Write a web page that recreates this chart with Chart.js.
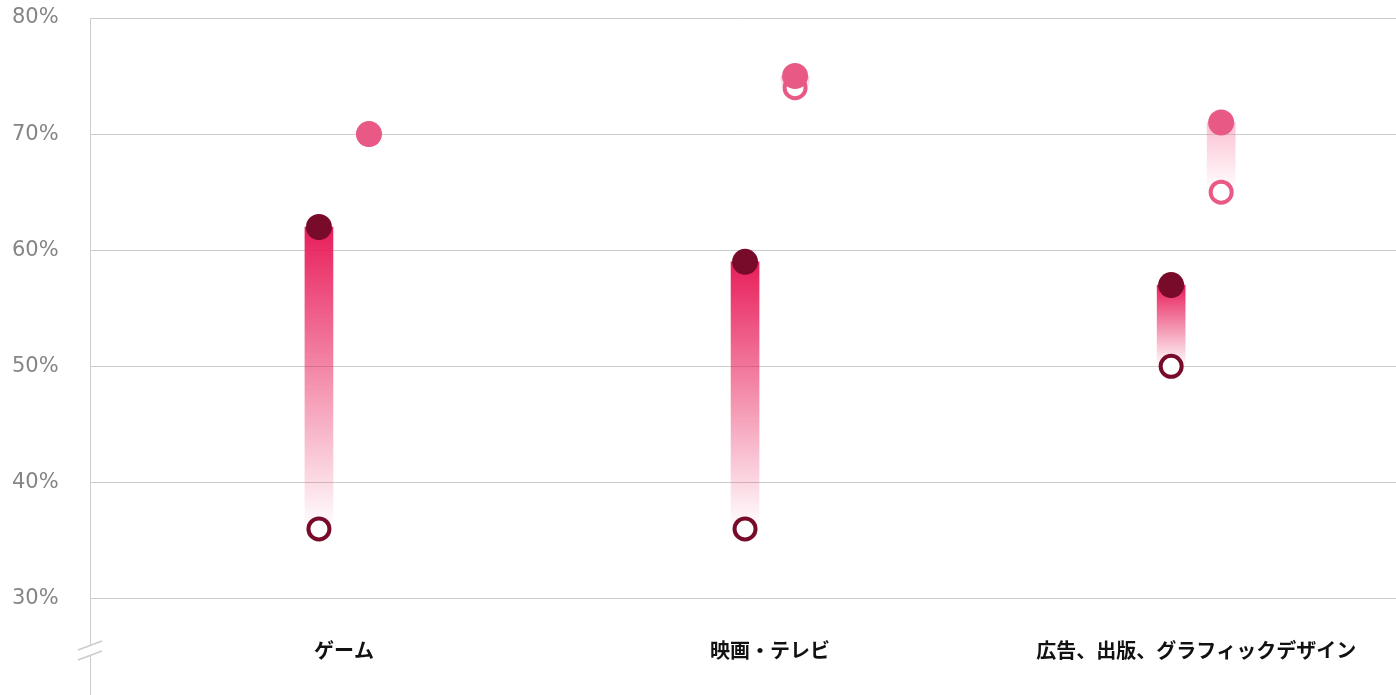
<!DOCTYPE html>
<html>
<head>
<meta charset="utf-8">
<script src="https://cdn.jsdelivr.net/npm/chart.js@4.4.0/dist/chart.umd.min.js"></script>
<style>
  html, body { margin: 0; padding: 0; background: #fff; overflow: hidden; }
</style>
</head>
<body>
<canvas id="chart" width="1396" height="695"></canvas>
<script>
const categories = ['ゲーム', '映画・テレビ', '広告、出版、グラフィックデザイン'];
const darkBefore = [36, 36, 50];
const darkAfter = [62, 59, 57];
const pinkBefore = [70, 74, 65];
const pinkAfter = [70, 75, 71];
const yTicks = [30, 40, 50, 60, 70, 80];

const shift = 0.0587;
const darkDot = '#780a2a';
const pinkDot = '#e85a85';

function barGradient(ctx, topColor, bottomColor) {
  const chart = ctx.chart;
  if (!chart.chartArea || !ctx.raw) return topColor;
  const y = chart.scales.y;
  const top = y.getPixelForValue(Math.max(...ctx.raw.y));
  const bottom = y.getPixelForValue(Math.min(...ctx.raw.y));
  const g = chart.ctx.createLinearGradient(0, top, 0, bottom);
  g.addColorStop(0, topColor);
  g.addColorStop(1, bottomColor);
  return g;
}

const darkBars = categories.map((c, i) => ({ x: i - shift, y: [darkBefore[i], darkAfter[i]] }));
const pinkBars = categories.map((c, i) => ({ x: i + shift, y: [pinkBefore[i], pinkAfter[i]] }));

const breakMarks = {
  id: 'breakMarks',
  afterDraw(chart) {
    const c = chart.ctx;
    const x0 = chart.chartArea.left;
    c.save();
    c.fillStyle = '#fff';
    c.beginPath();
    c.moveTo(x0 - 12, 650); c.lineTo(x0 + 12, 641);
    c.lineTo(x0 + 12, 651); c.lineTo(x0 - 12, 660);
    c.closePath(); c.fill();
    c.strokeStyle = '#cccccc';
    c.lineWidth = 1.5;
    c.beginPath();
    c.moveTo(x0 - 12, 650); c.lineTo(x0 + 12, 641);
    c.moveTo(x0 - 12, 660); c.lineTo(x0 + 12, 651);
    c.stroke();
    // category labels
    c.fillStyle = '#111';
    c.font = 'bold 20px "Noto Sans CJK JP", sans-serif';
    c.textAlign = 'center';
    c.textBaseline = 'middle';
    categories.forEach((label, i) => {
      c.fillText(label, chart.scales.x.getPixelForValue(i), 650);
    });
    c.restore();
  }
};

new Chart(document.getElementById('chart'), {
  data: {
    datasets: [
      {
        type: 'bar',
        data: darkBars,
        barThickness: 28,
        grouped: false,
        backgroundColor: ctx => barGradient(ctx, 'rgba(232,30,90,1)', 'rgba(232,30,90,0)'),
        order: 3,
      },
      {
        type: 'bar',
        data: pinkBars,
        barThickness: 28,
        grouped: false,
        backgroundColor: ctx => barGradient(ctx, 'rgba(248,130,165,0.5)', 'rgba(248,130,165,0)'),
        order: 3,
      },
      {
        type: 'scatter',
        data: categories.map((c, i) => ({ x: i - shift, y: darkBefore[i] })),
        pointRadius: 10.5,
        pointBorderWidth: 4,
        pointBackgroundColor: '#fff',
        pointBorderColor: darkDot,
        order: 2,
      },
      {
        type: 'scatter',
        data: categories.map((c, i) => ({ x: i + shift, y: pinkBefore[i] })),
        pointRadius: 10.5,
        pointBorderWidth: 4,
        pointBackgroundColor: '#fff',
        pointBorderColor: pinkDot,
        order: 2,
      },
      {
        type: 'scatter',
        data: categories.map((c, i) => ({ x: i - shift, y: darkAfter[i] })),
        pointRadius: 13,
        pointBorderWidth: 0,
        pointBackgroundColor: darkDot,
        order: 1,
      },
      {
        type: 'scatter',
        data: categories.map((c, i) => ({ x: i + shift, y: pinkAfter[i] })),
        pointRadius: 13,
        pointBorderWidth: 0,
        pointBackgroundColor: pinkDot,
        order: 1,
      },
    ],
  },
  options: {
    responsive: false,
    animation: false,
    layout: { autoPadding: false, padding: { left: 12, top: 18, right: 0, bottom: 0 } },
    plugins: { legend: { display: false }, tooltip: { enabled: false } },
    scales: {
      x: {
        type: 'linear',
        min: -0.596,
        max: 2.469,
        offset: false,
        display: false,
      },
      y: {
        min: 21.7,
        max: 80,
        afterBuildTicks: s => { s.ticks = yTicks.map(v => ({ value: v })); },
        afterFit: s => { s.width = 78; s.paddingTop = 0; s.paddingBottom = 0; },
        border: { color: '#cccccc', width: 1 },
        grid: { color: '#cccccc', drawTicks: false },
        ticks: {
          crossAlign: 'far',
          color: '#858585',
          font: { family: '"DejaVu Sans"', size: 21, weight: 'normal' },
          callback: v => v + '%',
        },
      },
    },
  },
  plugins: [breakMarks],
});
</script>
</body>
</html>
